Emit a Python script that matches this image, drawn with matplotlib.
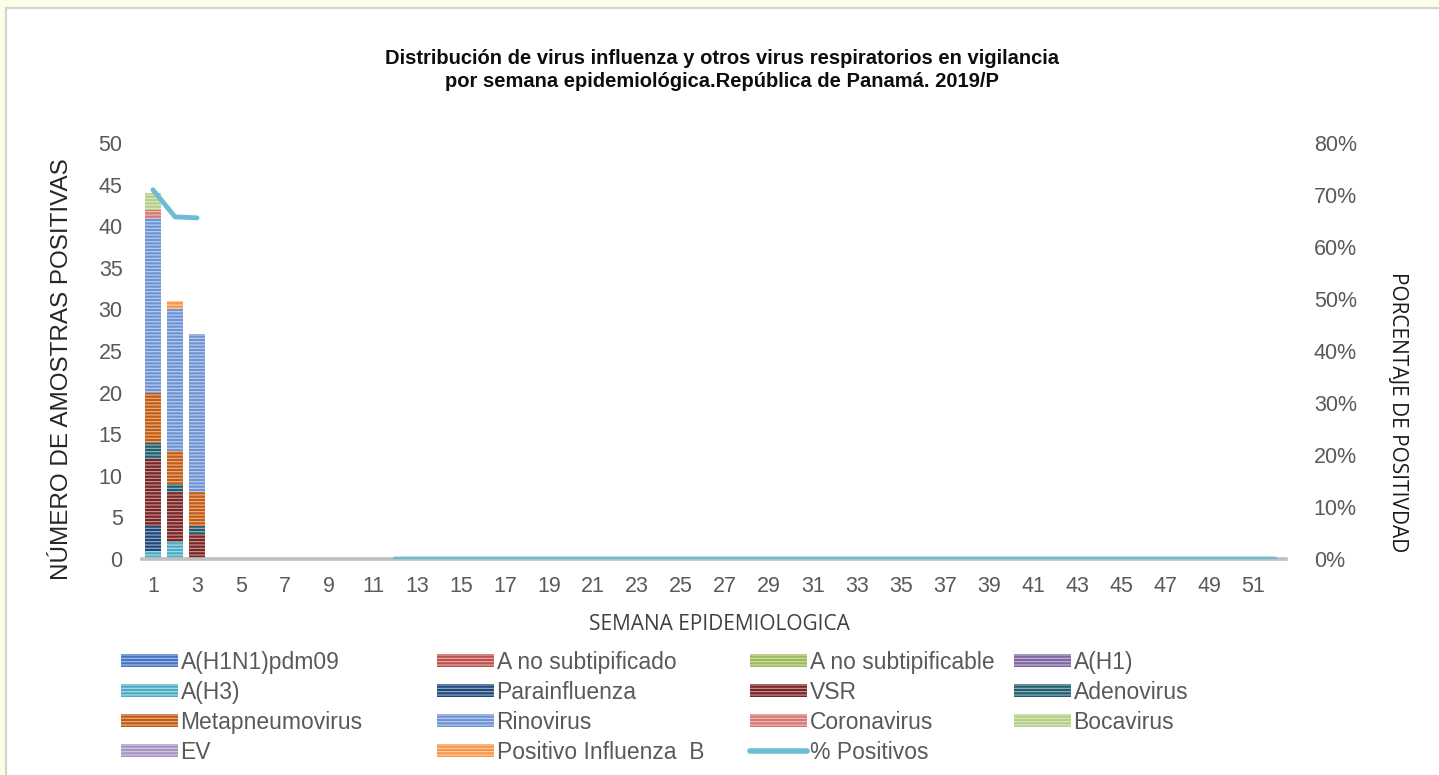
import matplotlib
matplotlib.use("Agg")
import matplotlib.pyplot as plt
import matplotlib.patches as mpatches
from matplotlib.lines import Line2D
from matplotlib.ticker import PercentFormatter
import numpy as np

plt.rcParams['font.family'] = ['Liberation Sans', 'DejaVu Sans']
plt.rcParams['hatch.color'] = (1, 1, 1, 0.55)
plt.rcParams['hatch.linewidth'] = 0.8

# Data (weeks 1-3 have samples, other weeks are empty)
weeks = np.arange(1, 53)
names = ['A(H1N1)pdm09', 'A no subtipificado', 'A no subtipificable', 'A(H1)',
         'A(H3)', 'Parainfluenza', 'VSR', 'Adenovirus',
         'Metapneumovirus', 'Rinovirus', 'Coronavirus', 'Bocavirus',
         'EV', 'Positivo Influenza  B']
colors = ['#4472c4', '#c0504d', '#9bbb59', '#8064a2',
          '#4bacc6', '#1f497d', '#7b2424', '#215f6e',
          '#c55a11', '#6f94d4', '#d77773', '#b3cf85',
          '#a393c2', '#f79646']

a_h1n1 = [0, 0, 0]
a_no_subtipificado = [0, 0, 0]
a_no_subtipificable = [0, 0, 0]
a_h1 = [0, 0, 0]
a_h3 = [1, 2, 0]
parainfluenza = [3, 0, 0]
vsr = [8, 6, 3]
adenovirus = [2, 1, 1]
metapneumovirus = [6, 4, 4]
rinovirus = [21, 17, 19]
coronavirus = [1, 0, 0]
bocavirus = [2, 0, 0]
ev = [0, 0, 0]
influenza_b = [0, 1, 0]

series = [a_h1n1, a_no_subtipificado, a_no_subtipificable, a_h1,
          a_h3, parainfluenza, vsr, adenovirus,
          metapneumovirus, rinovirus, coronavirus, bocavirus,
          ev, influenza_b]

# % positivos: weeks 1-3, no data weeks 4-11, 0 from week 12
positivos = [71.0, 65.8, 65.6] + [np.nan] * 8 + [0] * 41

fig = plt.figure(figsize=(14.39, 7.75), dpi=100)
fig.patch.set_facecolor('#fdfee6')
panel = mpatches.Rectangle((6 / 1439, -0.02), 1.0, (775 - 8) / 775 + 0.02,
                           transform=fig.transFigure, facecolor='white',
                           edgecolor='#d4d4d4', linewidth=1.6, zorder=-10)
fig.patches.append(panel)

ax = fig.add_axes([142 / 1439, 216 / 775, 1144 / 1439, 416 / 775])
ax.set_facecolor('none')

bottom = np.zeros(len(weeks))
for name, col, vals in zip(names, colors, series):
    full = np.zeros(len(weeks))
    full[:len(vals)] = vals
    ax.bar(weeks, full, width=0.72, bottom=bottom, color=col,
           hatch='-----', linewidth=0)
    bottom += full

ax.set_xlim(0.5, 52.5)
ax.set_ylim(0, 50)
ax.set_yticks(np.arange(0, 51, 5))
ax.set_xticks(np.arange(1, 52, 2))
ax.tick_params(length=0, labelsize=15.5, colors='#595959', pad=12)
ax.tick_params(axis='y', pad=14)
for s in ['top', 'left', 'right']:
    ax.spines[s].set_visible(False)
ax.spines['bottom'].set_color('#bfbfbf')
ax.spines['bottom'].set_linewidth(2.6)

ax2 = ax.twinx()
ax2.plot(weeks, positivos, color='#6cbdd4', linewidth=3.5,
         solid_capstyle='round')
ax2.set_ylim(0, 80)
ax2.set_yticks(np.arange(0, 81, 10))
ax2.yaxis.set_major_formatter(PercentFormatter(decimals=0))
ax2.tick_params(length=0, labelsize=15.5, colors='#595959', pad=20)
for s in ax2.spines.values():
    s.set_visible(False)

fig.text(0.502, 1 - 70 / 775,
         'Distribución de virus influenza y otros virus respiratorios en vigilancia\n'
         'por semana epidemiológica.República de Panamá. 2019/P',
         ha='center', va='center', fontsize=14.5, fontweight='bold',
         linespacing=1.3, color='#0d0d0d')

fig.text(62 / 1439, 1 - 369 / 775, 'NÚMERO DE AMOSTRAS POSITIVAS',
         rotation=90, ha='center', va='center', fontsize=17.5, color='#262626')
fig.text(1397 / 1439, 1 - 412 / 775, 'PORCENTAJE DE POSITIVDAD',
         rotation=270, ha='center', va='center', fontsize=15,
         family='Open Sans', color='#1a1a1a')
fig.text(719 / 1439, 1 - 624 / 775, 'SEMANA EPIDEMIOLOGICA',
         ha='center', va='center', fontsize=15, family='Open Sans',
         color='#404040')

# legend: four columns, filled row by row
handles = [mpatches.Patch(facecolor=c, hatch='-----', linewidth=0) for c in colors]
handles.append(Line2D([0], [0], color='#6cbdd4', linewidth=4, solid_capstyle='round'))
labels = names + ['% Positivos']
col_x = [121, 437, 750, 1014]
for k in range(4):
    idx = list(range(k, len(labels), 4))
    leg = fig.legend([handles[i] for i in idx], [labels[i] for i in idx],
                     loc='upper left', bbox_to_anchor=(col_x[k] / 1439, 1 - 651 / 775),
                     frameon=False, fontsize=16.5, handlelength=2.5,
                     handleheight=0.5, handletextpad=0.1, labelspacing=0.3,
                     borderpad=0, borderaxespad=0)
    for t in leg.get_texts():
        t.set_color('#595959')

fig.savefig('out.png', dpi=100, facecolor=fig.get_facecolor())
